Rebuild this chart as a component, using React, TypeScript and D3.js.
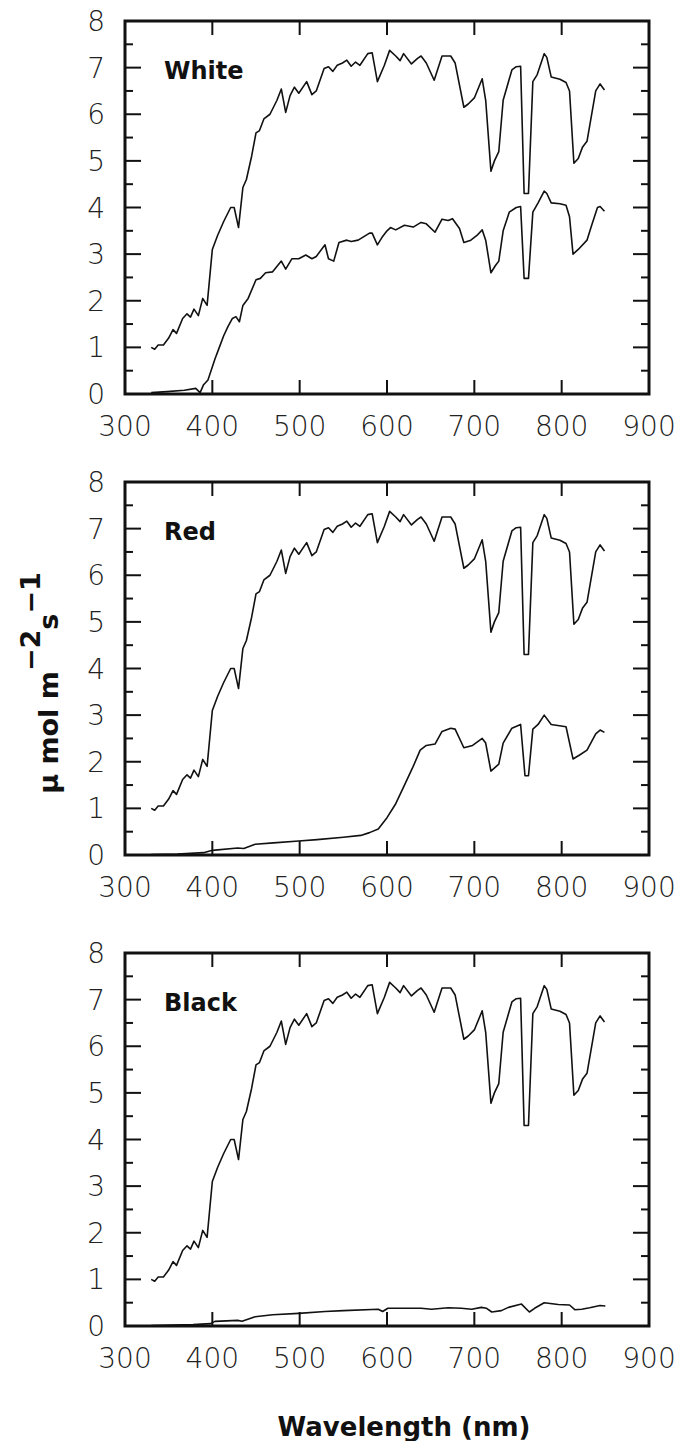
import React from "react";
import * as d3 from "d3";

type Pt = [number, number];

// Full sunlight spectrum (same in every panel), [wavelength nm, µmol m-2 s-1]
const sunlight: Pt[] = [
  [330, 1.0], [334, 0.96], [338, 1.05], [344, 1.05], [350, 1.2], [355, 1.38], [359, 1.3],
  [366, 1.62], [371, 1.72], [375, 1.65], [379, 1.82], [384, 1.68], [389, 2.05], [394, 1.9],
  [400, 3.1], [406, 3.4], [413, 3.7], [421, 4.0], [425, 4.0], [430, 3.57], [435, 4.43],
  [439, 4.6], [445, 5.1], [450, 5.6], [454, 5.65], [459, 5.9], [466, 6.0], [474, 6.3],
  [479, 6.54], [484, 6.04], [489, 6.4], [494, 6.58], [499, 6.45], [508, 6.7], [514, 6.42],
  [519, 6.5], [528, 6.98], [533, 7.02], [538, 6.92], [543, 7.05], [549, 7.1], [554, 7.16],
  [559, 7.03], [564, 7.12], [569, 7.05], [578, 7.3], [583, 7.32], [589, 6.7], [597, 7.05],
  [603, 7.37], [610, 7.25], [615, 7.15], [619, 7.3], [628, 7.08], [635, 7.2], [639, 7.25],
  [645, 7.1], [654, 6.73], [663, 7.25], [673, 7.25], [678, 7.1], [688, 6.15], [693, 6.22],
  [700, 6.35], [709, 6.76], [713, 6.3], [719, 4.78], [723, 5.0], [728, 5.2], [733, 6.3],
  [743, 6.95], [748, 7.02], [753, 7.03], [757, 4.3], [762, 4.3], [767, 6.7], [772, 6.85],
  [780, 7.3], [783, 7.22], [788, 6.8], [798, 6.75], [805, 6.68], [809, 6.5], [814, 4.95],
  [819, 5.05], [824, 5.3], [829, 5.42], [839, 6.5], [844, 6.65], [849, 6.52],
];

// Under white film
const whiteFilm: Pt[] = [
  [330, 0.03], [348, 0.05], [368, 0.08], [381, 0.12], [386, 0.03], [390, 0.2], [395, 0.3],
  [403, 0.75], [408, 1.0], [413, 1.25], [418, 1.45], [423, 1.62], [427, 1.66], [431, 1.55],
  [435, 1.9], [441, 2.05], [450, 2.45], [455, 2.48], [461, 2.6], [469, 2.62], [479, 2.85],
  [484, 2.68], [491, 2.9], [499, 2.9], [507, 2.98], [514, 2.9], [519, 2.95], [529, 3.2],
  [533, 2.9], [539, 2.85], [545, 3.25], [554, 3.3], [559, 3.27], [567, 3.3], [580, 3.45],
  [583, 3.45], [589, 3.2], [595, 3.38], [600, 3.5], [604, 3.57], [610, 3.52], [620, 3.62],
  [630, 3.58], [639, 3.68], [645, 3.65], [655, 3.47], [663, 3.75], [670, 3.72], [675, 3.76],
  [683, 3.55], [688, 3.25], [696, 3.3], [703, 3.4], [709, 3.52], [713, 3.3], [719, 2.6],
  [724, 2.75], [728, 2.85], [733, 3.5], [740, 3.9], [748, 4.0], [753, 4.02], [757, 2.48],
  [762, 2.48], [767, 3.9], [773, 4.1], [780, 4.35], [783, 4.3], [788, 4.1], [798, 4.08],
  [805, 4.05], [809, 3.8], [813, 3.0], [819, 3.1], [829, 3.3], [834, 3.6], [841, 4.0],
  [844, 4.02], [849, 3.92],
];

// Under red film
const redFilm: Pt[] = [
  [330, 0.01], [360, 0.02], [390, 0.05], [400, 0.1], [429, 0.15], [436, 0.14], [449, 0.23],
  [470, 0.26], [499, 0.3], [520, 0.33], [550, 0.38], [570, 0.42], [580, 0.48], [590, 0.56],
  [600, 0.8], [610, 1.1], [620, 1.5], [630, 1.9], [638, 2.25], [645, 2.35], [655, 2.38],
  [663, 2.65], [673, 2.72], [678, 2.7], [688, 2.3], [698, 2.35], [709, 2.5], [713, 2.4],
  [719, 1.8], [728, 1.95], [733, 2.4], [743, 2.72], [753, 2.8], [758, 1.7], [762, 1.7],
  [767, 2.7], [773, 2.8], [780, 3.0], [788, 2.8], [805, 2.75], [813, 2.06], [821, 2.15],
  [829, 2.25], [839, 2.6], [844, 2.68], [849, 2.63],
];

// Under black film
const blackFilm: Pt[] = [
  [330, 0.01], [378, 0.03], [398, 0.05], [403, 0.1], [429, 0.12], [434, 0.1], [449, 0.2],
  [469, 0.24], [499, 0.27], [529, 0.31], [550, 0.33], [590, 0.36], [595, 0.31], [601, 0.38],
  [639, 0.38], [651, 0.36], [670, 0.39], [685, 0.38], [697, 0.36], [708, 0.4], [714, 0.38],
  [720, 0.3], [731, 0.33], [739, 0.4], [754, 0.47], [763, 0.3], [769, 0.38], [780, 0.5],
  [796, 0.46], [809, 0.45], [815, 0.35], [823, 0.36], [832, 0.39], [844, 0.44], [850, 0.43],
];

const panelNames = ["White", "Red", "Black"];
const filmSeries = [whiteFilm, redFilm, blackFilm];
const xTicks = [300, 400, 500, 600, 700, 800, 900];
const yTicks = [0, 1, 2, 3, 4, 5, 6, 7, 8];
const yMinor = [0.5, 1.5, 2.5, 3.5, 4.5, 5.5, 6.5, 7.5];

const W = 688;
const H = 1441;
const panelTops = [21, 482, 953];
const panelH = 373;
const left = 125;
const right = 649;

const tickFont = "'DejaVu Sans', sans-serif";

function Panel({ top, name, film }: { top: number; name: string; film: Pt[] }) {
  const x = d3.scaleLinear().domain([300, 900]).range([left, right]);
  const y = d3.scaleLinear().domain([0, 8]).range([top + panelH, top]);
  const line = d3
    .line<Pt>()
    .x((d) => x(d[0]))
    .y((d) => y(d[1]));
  const bottom = top + panelH;
  return (
    <g>
      {xTicks.slice(1, -1).map((t) => (
        <g key={"xt" + t} stroke="#111" strokeWidth={2}>
          <line x1={x(t)} x2={x(t)} y1={bottom} y2={bottom - 14} />
          <line x1={x(t)} x2={x(t)} y1={top} y2={top + 14} />
        </g>
      ))}
      {yTicks.slice(1, -1).map((t) => (
        <g key={"yt" + t} stroke="#111" strokeWidth={2}>
          <line x1={left} x2={left + 16} y1={y(t)} y2={y(t)} />
          <line x1={right} x2={right - 16} y1={y(t)} y2={y(t)} />
        </g>
      ))}
      {yMinor.map((t) => (
        <g key={"ym" + t} stroke="#111" strokeWidth={2}>
          <line x1={left} x2={left + 8} y1={y(t)} y2={y(t)} />
          <line x1={right} x2={right - 8} y1={y(t)} y2={y(t)} />
        </g>
      ))}
      <path d={line(sunlight) || ""} fill="none" stroke="#111" strokeWidth={1.6} strokeLinejoin="round" />
      <path d={line(film) || ""} fill="none" stroke="#111" strokeWidth={1.6} strokeLinejoin="round" />
      <rect x={left} y={top} width={right - left} height={panelH} fill="none" stroke="#111" strokeWidth={3} />
      {yTicks.map((t) => (
        <text
          key={"yl" + t}
          x={left - 20}
          y={y(t)}
          dy="0.36em"
          textAnchor="end"
          fontFamily={tickFont}
          fontWeight={200}
          fontSize={28}
          fill="#222"
        >
          {t}
        </text>
      ))}
      {xTicks.map((t) => (
        <text
          key={"xl" + t}
          x={x(t)}
          y={bottom + 42}
          textAnchor="middle"
          fontFamily={tickFont}
          fontWeight={200}
          fontSize={28}
          fill="#222"
        >
          {t}
        </text>
      ))}
      <text x={164} y={y(6.75)} fontFamily={tickFont} fontWeight={700} fontSize={24} fill="#111">
        {name}
      </text>
    </g>
  );
}

export default function App() {
  return (
    <svg
      width={W}
      height={H}
      viewBox={`0 0 ${W} ${H}`}
      style={{ position: "absolute", left: 0, top: 0, background: "#fff" }}
    >
      <rect x={0} y={0} width={W} height={H} fill="#fff" />
      {panelTops.map((t, i) => (
        <Panel key={panelNames[i]} top={t} name={panelNames[i]} film={filmSeries[i]} />
      ))}
      <text
        transform="translate(58,683) rotate(-90)"
        textAnchor="middle"
        fontFamily={tickFont}
        fontWeight={700}
        fontSize={27}
        fill="#111"
      >
        <tspan>μ mol m</tspan>
        <tspan dy={-18}>−2</tspan>
        <tspan dy={18}>s</tspan>
        <tspan dy={-18}>−1</tspan>
      </text>
      <text
        x={404}
        y={1436}
        textAnchor="middle"
        fontFamily={tickFont}
        fontWeight={700}
        fontSize={26}
        fill="#111"
      >
        Wavelength (nm)
      </text>
    </svg>
  );
}
